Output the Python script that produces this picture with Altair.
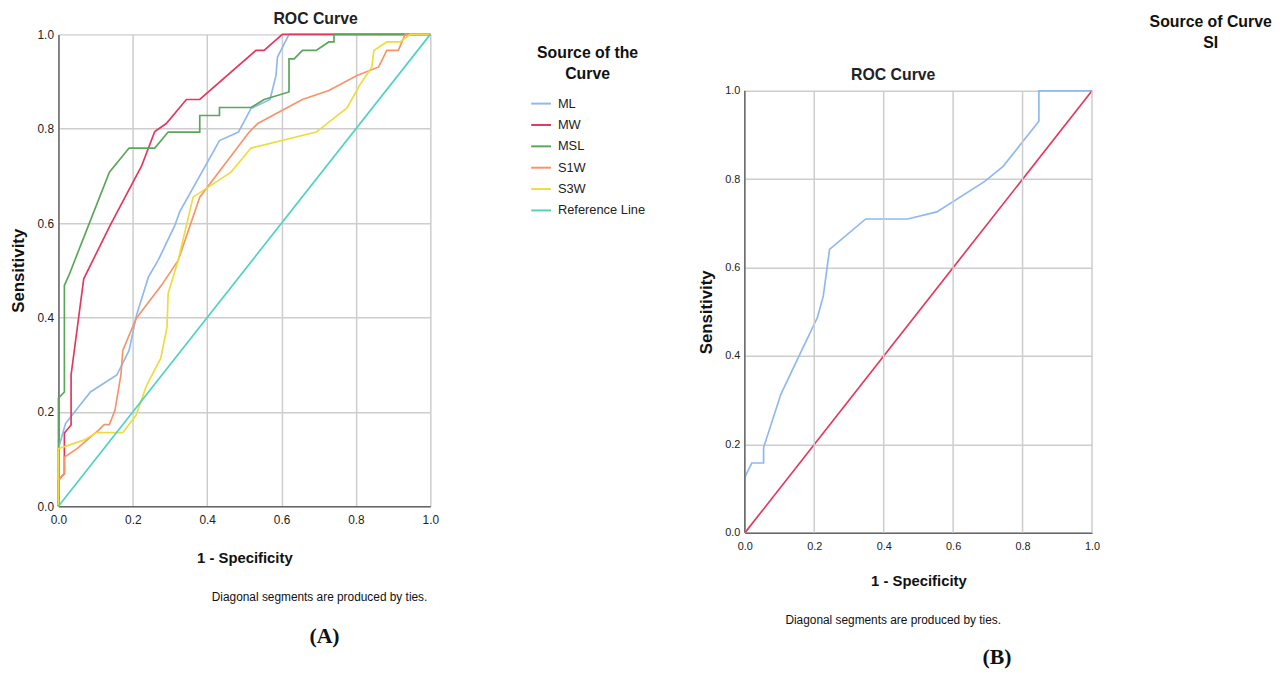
import altair as alt
import pandas as pd

# ---------------- Panel A data ----------------
ml_fpr = [0, 0, 0.019, 0.086, 0.157, 0.19, 0.21, 0.242, 0.268, 0.313, 0.326, 0.433, 0.484, 0.518, 0.569, 0.585, 0.589, 0.62, 1.0]
ml_tpr = [0, 0.122, 0.175, 0.242, 0.278, 0.33, 0.405, 0.486, 0.521, 0.595, 0.624, 0.775, 0.793, 0.843, 0.862, 0.913, 0.952, 1.0, 1.0]

mw_fpr = [0, 0, 0.016, 0.016, 0.034, 0.034, 0.068, 0.139, 0.224, 0.259, 0.29, 0.344, 0.38, 0.531, 0.553, 0.602, 1.0]
mw_tpr = [0, 0.055, 0.069, 0.155, 0.172, 0.278, 0.482, 0.595, 0.722, 0.794, 0.811, 0.862, 0.862, 0.966, 0.966, 1.0, 1.0]

msl_fpr = [0, 0, 0.016, 0.016, 0.028, 0.137, 0.19, 0.259, 0.295, 0.38, 0.38, 0.433, 0.433, 0.518, 0.553, 0.62, 0.62, 0.634, 0.656, 0.693, 0.727, 0.741, 0.741, 1.0]
msl_tpr = [0, 0.229, 0.242, 0.468, 0.489, 0.708, 0.759, 0.759, 0.793, 0.793, 0.828, 0.828, 0.845, 0.845, 0.862, 0.878, 0.948, 0.948, 0.966, 0.966, 0.984, 0.984, 1.0, 1.0]

s1w_fpr = [0, 0, 0.016, 0.016, 0.05, 0.108, 0.123, 0.137, 0.152, 0.168, 0.173, 0.209, 0.277, 0.322, 0.38, 0.513, 0.536, 0.656, 0.727, 0.803, 0.861, 0.883, 0.914, 0.932, 1.0]
s1w_tpr = [0, 0.055, 0.069, 0.104, 0.122, 0.161, 0.173, 0.173, 0.203, 0.278, 0.33, 0.398, 0.468, 0.521, 0.655, 0.793, 0.811, 0.862, 0.881, 0.913, 0.931, 0.966, 0.966, 1.0, 1.0]

s3w_fpr = [0, 0, 0.068, 0.103, 0.173, 0.209, 0.237, 0.275, 0.292, 0.295, 0.322, 0.362, 0.464, 0.518, 0.693, 0.776, 0.812, 0.843, 0.848, 0.883, 0.919, 0.946, 1.0]
s3w_tpr = [0, 0.122, 0.14, 0.156, 0.156, 0.193, 0.256, 0.313, 0.38, 0.451, 0.521, 0.655, 0.708, 0.759, 0.793, 0.844, 0.895, 0.931, 0.966, 0.984, 0.984, 1.0, 1.0]

ref_fpr = [0, 1.0]
ref_tpr = [0, 1.0]

curves_a = ["ML", "MW", "MSL", "S1W", "S3W", "Reference Line"]
colors_a = ["#8fb9ee", "#e2385d", "#5aa65a", "#f8936a", "#eedc3c", "#50d2c2"]

# ---------------- Panel B data ----------------
si_fpr = [0, 0, 0.02, 0.054, 0.054, 0.104, 0.161, 0.209, 0.226, 0.244, 0.348, 0.469, 0.553, 0.691, 0.744, 0.847, 0.847, 1.0]
si_tpr = [0, 0.126, 0.158, 0.158, 0.193, 0.314, 0.408, 0.487, 0.536, 0.641, 0.71, 0.71, 0.726, 0.795, 0.829, 0.931, 1.0, 1.0]
curves_b = ["SI", "Reference Line"]
colors_b = ["#8fb9ee", "#e2385d"]

ticks = [0.0, 0.2, 0.4, 0.6, 0.8, 1.0]
FONT = "Liberation Sans"
GRID = "#cdcdcd"
DOMAIN = "#666666"


def frame(name, fpr, tpr):
    return pd.DataFrame({"curve": name, "fpr": fpr, "tpr": tpr, "i": range(len(fpr))})


df_a = pd.concat([
    frame("ML", ml_fpr, ml_tpr),
    frame("MW", mw_fpr, mw_tpr),
    frame("MSL", msl_fpr, msl_tpr),
    frame("S1W", s1w_fpr, s1w_tpr),
    frame("S3W", s3w_fpr, s3w_tpr),
    frame("Reference Line", ref_fpr, ref_tpr),
], ignore_index=True)

df_b = pd.concat([
    frame("SI", si_fpr, si_tpr),
    frame("Reference Line", ref_fpr, ref_tpr),
], ignore_index=True)

# vertical grid lines (and the left axis line) of panel B, spanning 0..1 on the y scale
df_vgrid = pd.DataFrame({"fpr": ticks, "tpr": [0.0] * len(ticks), "tpr_end": [1.0] * len(ticks)})
df_yline = pd.DataFrame({"fpr": [0.0], "tpr": [0.0], "tpr_end": [1.0]})


def xaxis(label_size, title_y, pad, grid=True):
    return alt.Axis(values=ticks, format=".1f", ticks=False, grid=grid, gridColor=GRID,
                    gridWidth=1.5, domainColor=DOMAIN, domainWidth=1.5,
                    labelFont=FONT, labelFontSize=label_size, labelColor="#222222",
                    labelPadding=pad, labelFlush=False, labelOverlap=False,
                    title="1 - Specificity", titleFont=FONT, titleFontSize=15,
                    titleFontWeight="bold", titleColor="#111111", titleY=title_y,
                    titleBaseline="middle")


def yaxis(label_size, title_x, title_y, domain=True):
    return alt.Axis(values=ticks, format=".1f", ticks=False, grid=True, gridColor=GRID,
                    gridWidth=1.5, domain=domain, domainColor=DOMAIN, domainWidth=1.5,
                    labelFont=FONT, labelFontSize=label_size, labelColor="#222222",
                    labelPadding=5, labelFlush=False, labelOverlap=False,
                    title="Sensitivity", titleFont=FONT, titleFontSize=17,
                    titleFontWeight="bold", titleColor="#111111", titleX=title_x,
                    titleY=title_y, titleBaseline="middle", titleAngle=-90)


def text_layer(txt, x, y, size=12, weight="normal", font=FONT, opacity=1.0, align="center",
               baseline="middle", line_height=None, color="#111111"):
    kw = dict(fontSize=size, fontWeight=weight, font=font, align=align, baseline=baseline,
              color=color, opacity=opacity)
    if line_height is not None:
        kw["lineBreak"] = "\n"
        kw["lineHeight"] = line_height
    return alt.Chart(pd.DataFrame({"t": [txt]})).mark_text(**kw).encode(
        x=alt.value(x), y=alt.value(y), text="t:N")


# Panel A plot area
WA, HA = 376, 477
# Panel B plot area, set 57 px lower than panel A inside a taller view
WB, HB, HB_VIEW = 351, 447, 504
B_YMAX = HB_VIEW / HB

lines_a = alt.Chart(df_a).mark_line(strokeWidth=1.7).encode(
    x=alt.X("fpr:Q", scale=alt.Scale(domain=[0, 1], nice=False), axis=xaxis(12, 52, 9)),
    y=alt.Y("tpr:Q", scale=alt.Scale(domain=[0, 1], nice=False), axis=yaxis(12, -40, HA / 2)),
    color=alt.Color("curve:N", scale=alt.Scale(domain=curves_a, range=colors_a),
                    legend=alt.Legend(title=["Source of the", "Curve"], orient="none",
                                      legendX=477, legendY=11, padding=0,
                                      titleFont=FONT, titleFontSize=16, titleFontWeight="bold",
                                      titleColor="#111111", titleAnchor="middle",
                                      titleAlign="center", titleLineHeight=21,
                                      titlePadding=11,
                                      labelFont=FONT, labelFontSize=13, labelColor="#222222",
                                      labelOffset=6, symbolType="stroke", symbolSize=400,
                                      symbolStrokeWidth=2, rowPadding=3.6)),
    order=alt.Order("i:Q"),
)

panel_a = alt.layer(
    lines_a,
    text_layer("Diagonal segments are produced by ties.", 264, 569, size=12),
    text_layer("(A)", 269, 608, size=22, weight="bold", font="Liberation Serif"),
    text_layer(".", 600, 100, size=1, opacity=0, align="left", baseline="top"),
).properties(
    width=WA, height=HA,
    title=alt.TitleParams("ROC Curve", font=FONT, fontSize=16, fontWeight="bold", color="#222222",
                          anchor="middle", frame="group", dx=72, offset=1),
)

xscale_b = alt.Scale(domain=[0, 1], nice=False)
yscale_b = alt.Scale(domain=[0, B_YMAX], nice=False)
xaxis_b = xaxis(11, 48, 8, grid=False)
yaxis_b = yaxis(11, -39, HB_VIEW - HB / 2, domain=False)

lines_b = alt.Chart(df_b).mark_line(strokeWidth=1.7).encode(
    x=alt.X("fpr:Q", scale=xscale_b, axis=xaxis_b),
    y=alt.Y("tpr:Q", scale=yscale_b, axis=yaxis_b),
    color=alt.Color("curve:N", scale=alt.Scale(domain=curves_b, range=colors_b), legend=None),
    order=alt.Order("i:Q"),
)

vgrid_b = alt.Chart(df_vgrid).mark_rule(color=GRID, strokeWidth=1.5).encode(
    x=alt.X("fpr:Q", scale=xscale_b, axis=xaxis_b),
    y=alt.Y("tpr:Q", scale=yscale_b, axis=yaxis_b),
    y2="tpr_end:Q",
)

yline_b = alt.Chart(df_yline).mark_rule(color=DOMAIN, strokeWidth=1.5).encode(
    x=alt.X("fpr:Q", scale=xscale_b, axis=xaxis_b),
    y=alt.Y("tpr:Q", scale=yscale_b, axis=yaxis_b),
    y2="tpr_end:Q",
)

panel_b = alt.layer(
    lines_b,
    vgrid_b,
    yline_b,
    text_layer("ROC Curve", 150, 41, size=16, weight="bold", color="#222222"),
    text_layer("Diagonal segments are produced by ties.", 150, 592, size=12),
    text_layer("(B)", 255, 630, size=22, weight="bold", font="Liberation Serif"),
    text_layer("Source of Curve\nSI", 471, -12, size=16, weight="bold", line_height=21),
    text_layer(".", -50, 100, size=1, opacity=0, align="left", baseline="top"),
).properties(width=WB, height=HB_VIEW)

chart = alt.hconcat(panel_a, panel_b, spacing=43).resolve_scale(
    color="independent", x="independent", y="independent"
).properties(
    padding={"left": 2, "top": 0, "right": 0, "bottom": 0},
    background="white",
).configure_view(stroke="transparent", strokeWidth=0)

chart.save("out.html", embed_options={"renderer": "svg", "actions": False})
